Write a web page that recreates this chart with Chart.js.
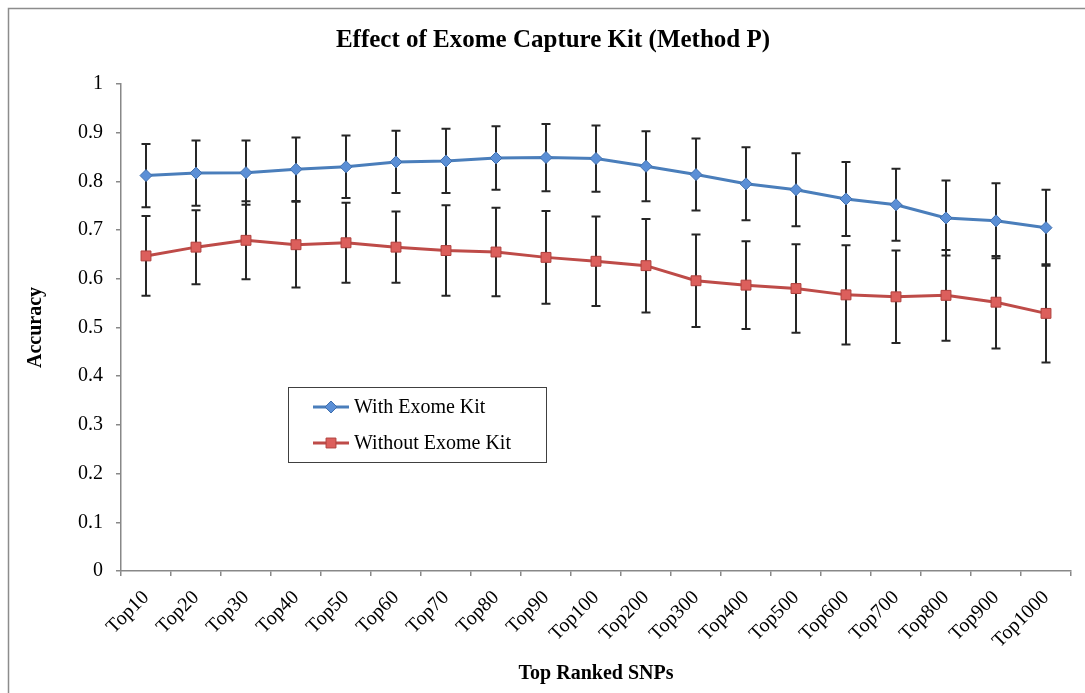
<!DOCTYPE html>
<html>
<head>
<meta charset="utf-8">
<title>Effect of Exome Capture Kit (Method P)</title>
<script src="https://cdn.jsdelivr.net/npm/chart.js@4/dist/chart.umd.min.js"></script>
<style>
  html, body { margin: 0; padding: 0; background: #fff; }
  #wrap { position: relative; width: 1085px; height: 693px; overflow: hidden; }
</style>
</head>
<body>
<div id="wrap"><canvas id="chart" width="1085" height="693"></canvas></div>
<script>
const CATEGORIES = [
  "Top10", "Top20", "Top30", "Top40", "Top50", "Top60", "Top70", "Top80", "Top90", "Top100",
  "Top200", "Top300", "Top400", "Top500", "Top600", "Top700", "Top800", "Top900", "Top1000"
];

// accuracy with the exome kit, and the +/- spread drawn as error bars
const WITH_KIT = [0.812, 0.817, 0.818, 0.825, 0.830, 0.840, 0.842, 0.848, 0.849, 0.847,
                  0.831, 0.814, 0.795, 0.783, 0.764, 0.752, 0.725, 0.719, 0.705];
const WITH_KIT_ERR = [0.065, 0.067, 0.066, 0.065, 0.064, 0.064, 0.066, 0.065, 0.069, 0.068,
                      0.072, 0.074, 0.075, 0.075, 0.076, 0.074, 0.077, 0.077, 0.078];

const WITHOUT_KIT = [0.647, 0.665, 0.679, 0.670, 0.674, 0.665, 0.658, 0.655, 0.644, 0.636,
                     0.627, 0.596, 0.587, 0.580, 0.567, 0.563, 0.566, 0.552, 0.529];
const WITHOUT_KIT_ERR = [0.082, 0.076, 0.080, 0.088, 0.082, 0.073, 0.093, 0.091, 0.095, 0.092,
                         0.096, 0.095, 0.090, 0.091, 0.102, 0.095, 0.093, 0.095, 0.101];

const Y_MIN = 0;
const Y_MAX = 1;
const Y_STEP = 0.1;

const SERIF = '"Liberation Serif", "Times New Roman", serif';
const AXIS_GREY = "#888888";

// grey frame round the chart area (Excel style), only its top/left edges are in view
const frame = {
  id: "frame",
  beforeDraw(chart) {
    const { ctx } = chart;
    ctx.save();
    ctx.strokeStyle = "#8c8c8c";
    ctx.lineWidth = 1.5;
    ctx.strokeRect(8.5, 8.5, chart.width + 40, chart.height + 40);
    ctx.restore();
  }
};

const errorBars = {
  id: "errorBars",
  beforeDatasetsDraw(chart) {
    const { ctx } = chart;
    const x = chart.scales.x;
    const y = chart.scales.y;
    ctx.save();
    ctx.strokeStyle = "#262626";
    ctx.lineWidth = 2;
    chart.data.datasets.forEach((ds) => {
      ds.data.forEach((v, i) => {
        const err = ds.errors[i];
        const px = x.getPixelForValue(i);
        const top = y.getPixelForValue(v + err);
        const bot = y.getPixelForValue(v - err);
        ctx.beginPath();
        ctx.moveTo(px, top);
        ctx.lineTo(px, bot);
        ctx.moveTo(px - 4.5, top);
        ctx.lineTo(px + 4.5, top);
        ctx.moveTo(px - 4.5, bot);
        ctx.lineTo(px + 4.5, bot);
        ctx.stroke();
      });
    });
    ctx.restore();
  }
};

// boxed legend sitting inside the plot, drawn from the dataset styles
const boxLegend = {
  id: "boxLegend",
  afterDraw(chart) {
    const { ctx, chartArea } = chart;
    const left = chartArea.left + 167;
    const top = chartArea.top + 303;
    const w = 258;
    const h = 75;
    ctx.save();
    ctx.strokeStyle = "#404040";
    ctx.lineWidth = 1;
    ctx.strokeRect(left + 0.5, top + 0.5, w, h);
    ctx.font = `20px ${SERIF}`;
    ctx.textBaseline = "middle";
    chart.data.datasets.forEach((ds, i) => {
      const cy = top + 20 + i * 36;
      const x0 = left + 25;
      const x1 = left + 61;
      ctx.strokeStyle = ds.borderColor;
      ctx.lineWidth = 3;
      ctx.beginPath();
      ctx.moveTo(x0, cy);
      ctx.lineTo(x1, cy);
      ctx.stroke();
      ctx.fillStyle = ds.pointBackgroundColor;
      ctx.strokeStyle = ds.pointBorderColor;
      ctx.lineWidth = 1;
      Chart.helpers.drawPoint(ctx, {
        pointStyle: ds.pointStyle,
        radius: ds.pointRadius,
        rotation: 0,
        borderWidth: 1
      }, (x0 + x1) / 2, cy);
      ctx.fillStyle = "#000";
      ctx.fillText(ds.label, left + 66, cy + 1);
    });
    ctx.restore();
  }
};

new Chart(document.getElementById("chart"), {
  type: "line",
  data: {
    labels: CATEGORIES,
    datasets: [
      {
        label: "With Exome Kit",
        data: WITH_KIT,
        errors: WITH_KIT_ERR,
        borderColor: "#4a7ebb",
        borderWidth: 3,
        pointStyle: "rectRot",
        pointRadius: 6,
        pointBackgroundColor: "#5b8fd6",
        pointBorderColor: "#3f6fae",
        pointBorderWidth: 1,
        tension: 0
      },
      {
        label: "Without Exome Kit",
        data: WITHOUT_KIT,
        errors: WITHOUT_KIT_ERR,
        borderColor: "#be4b48",
        borderWidth: 3,
        pointStyle: "rect",
        pointRadius: 7,
        pointBackgroundColor: "#dc5f5c",
        pointBorderColor: "#b0403d",
        pointBorderWidth: 1,
        tension: 0
      }
    ]
  },
  options: {
    responsive: false,
    animation: false,
    // left padding shifts the title centre to match the original
    layout: { padding: { left: 35, right: 14, top: 0, bottom: 0 } },
    plugins: {
      legend: { display: false },
      tooltip: { enabled: false },
      title: {
        display: true,
        text: "Effect of Exome Capture Kit (Method P)",
        color: "#000",
        font: { family: SERIF, size: 25, weight: "bold", lineHeight: 1.2 },
        padding: { top: 26, bottom: 28 }
      }
    },
    scales: {
      x: {
        type: "category",
        offset: true,
        afterFit: (scale) => { scale.height = 122; },
        grid: {
          offset: true,
          drawOnChartArea: false,
          drawTicks: true,
          tickLength: 5,
          color: AXIS_GREY,
          lineWidth: 1.5
        },
        border: { color: AXIS_GREY, width: 1.5 },
        ticks: {
          color: "#000",
          font: { family: SERIF, size: 20 },
          minRotation: 45,
          maxRotation: 45,
          autoSkip: false,
          padding: 10
        },
        title: {
          display: true,
          text: "Top Ranked SNPs",
          color: "#000",
          font: { family: SERIF, size: 20, weight: "bold", lineHeight: 1.2 },
          padding: { top: 0, bottom: 7 }
        }
      },
      y: {
        min: Y_MIN,
        max: Y_MAX,
        afterFit: (scale) => { scale.width = 86; },
        grid: {
          drawOnChartArea: false,
          drawTicks: true,
          tickLength: 5,
          color: AXIS_GREY,
          lineWidth: 1.5
        },
        border: { color: AXIS_GREY, width: 1.5 },
        ticks: {
          stepSize: Y_STEP,
          color: "#000",
          font: { family: SERIF, size: 20 },
          padding: 13,
          callback: (v) => String(Math.round(v * 10) / 10)
        },
        title: {
          display: true,
          text: "Accuracy",
          color: "#000",
          font: { family: SERIF, size: 20, weight: "bold", lineHeight: 1.2 },
          padding: { top: -11, bottom: 0 }
        }
      }
    }
  },
  plugins: [frame, errorBars, boxLegend]
});
</script>
</body>
</html>
